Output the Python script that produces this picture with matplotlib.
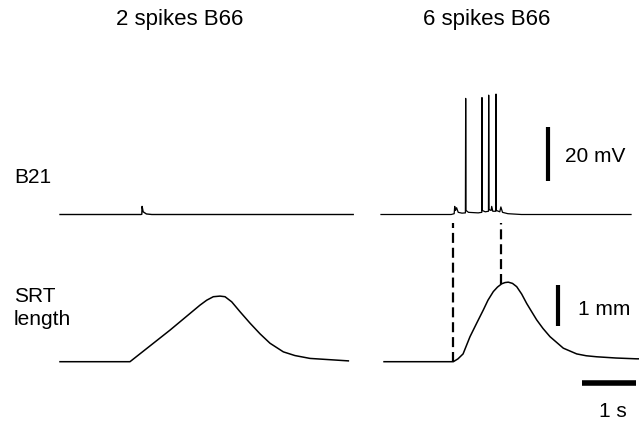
import numpy as np
import matplotlib
matplotlib.use('Agg')
import matplotlib.pyplot as plt

plt.rcParams['font.family'] = ['Liberation Sans', 'DejaVu Sans']

# panel titles and row labels
titles = ['2 spikes B66', '6 spikes B66']
row_labels = ['B21', 'SRT\nlength']

# B21 membrane potential, left panel (s, mV above rest)
b21_left_t = [0.0, 1.50, 1.515, 1.52, 1.54, 1.60, 1.70, 5.43]
b21_left_v = [0.0, 0.0, 0.1, 3.0, 1.0, 0.2, 0.0, 0.0]

# B21 membrane potential, right panel (s, mV above rest)
b21_right_t = [0.0, 1.30, 1.355, 1.365, 1.38, 1.40, 1.43, 1.50,
               1.563, 1.568, 1.574, 1.62, 1.80,
               1.866, 1.870, 1.875, 1.93,
               1.990, 1.994, 2.000, 2.04, 2.05, 2.07,
               2.126, 2.130, 2.136, 2.20, 2.22, 2.25, 2.35, 2.60, 4.63]
b21_right_v = [0.0, 0.0, 0.3, 3.0, 1.5, 2.5, 0.8, 0.5,
               0.6, 43.0, 1.5, 0.8, 0.6,
               0.8, 43.3, 1.5, 1.0,
               1.2, 44.2, 1.8, 1.5, 3.0, 1.2,
               1.2, 44.6, 1.5, 1.0, 2.8, 0.8, 0.3, 0.0, 0.0]

# SRT length, left panel (s, mm)
srt_left_t = [0.0, 1.296, 2.037, 2.593, 2.717, 2.839, 2.963, 3.056, 3.18,
              3.333, 3.519, 3.704, 3.889, 4.136, 4.35, 4.63, 5.34]
srt_left_mm = [0.0, 0.0, 0.77, 1.38, 1.50, 1.585, 1.60, 1.585, 1.46,
               1.22, 0.94, 0.68, 0.45, 0.24, 0.15, 0.08, 0.02]

# SRT length, right panel (s, mm)
srt_right_t = [0.056, 1.30, 1.339, 1.426, 1.52, 1.648, 1.772, 1.894, 1.981,
               2.080, 2.157, 2.235, 2.296, 2.357, 2.435, 2.513, 2.605, 2.698,
               2.79, 2.883, 3.0, 3.130, 3.253, 3.376, 3.5, 3.624, 3.8, 3.994,
               4.35, 4.735, 4.85]
srt_right_mm = [0.0, 0.0, 0.0, 0.07, 0.19, 0.61, 0.94, 1.26, 1.50,
                1.71, 1.82, 1.90, 1.93, 1.94, 1.91, 1.83, 1.65, 1.42,
                1.22, 1.02, 0.81, 0.61, 0.47, 0.33, 0.26, 0.19, 0.145, 0.12,
                0.09, 0.07, 0.07]

# dashed markers linking first and last B21 events to SRT (right panel)
dash_t = [1.333, 2.222]
dash_bottom = [0.0, 1.89]
dash_top = 3.38

# scale bars
bar_mv = 20
bar_mm = 1
bar_s = 1

# layout (pixels of the 639x422 figure)
W, H = 639, 422
T_PX = 54.0      # px per second
MV_PX = 2.7      # px per mV
MM_PX = 41.0     # px per mm
X0_L, X0_R = 60, 381
B21_Y, SRT_Y = 214.5, 361.7
t_off = (X0_R - X0_L) / T_PX

fig = plt.figure(figsize=(W / 100, H / 100), dpi=100)
ax_v = fig.add_axes([0, 0, 1, 1])
ax_s = fig.add_axes([0, 0, 1, 1])
for ax in (ax_v, ax_s):
    ax.set_axis_off()
    ax.patch.set_alpha(0)
    ax.set_xlim(-X0_L / T_PX, (W - X0_L) / T_PX)
ax_v.set_ylim(-(H - B21_Y) / MV_PX, B21_Y / MV_PX)
ax_s.set_ylim(-(H - SRT_Y) / MM_PX, SRT_Y / MM_PX)

# traces
ax_v.plot(b21_left_t, b21_left_v, color='k', lw=1.0)
ax_v.plot(np.array(b21_right_t) + t_off, b21_right_v, color='k', lw=0.9)
ax_s.plot(srt_left_t, srt_left_mm, color='k', lw=1.1)
ax_s.plot(np.array(srt_right_t) + t_off, srt_right_mm, color='k', lw=1.1)

# dashed links
for t, yb in zip(dash_t, dash_bottom):
    ax_s.plot([t + t_off, t + t_off], [yb, dash_top], color='k', lw=1.6,
              dashes=(4.5, 2.2), solid_capstyle='butt')

# scale bars
ax_v.plot([3.093 + t_off] * 2, [12.3, 12.3 + bar_mv], color='k', lw=3.0,
          solid_capstyle='butt')
ax_s.plot([3.27 + t_off] * 2, [0.87, 0.87 + bar_mm], color='k', lw=3.0,
          solid_capstyle='butt')
ax_s.plot([3.72 + t_off, 3.72 + t_off + bar_s], [-0.52, -0.52], color='k',
          lw=4.0, solid_capstyle='butt')

fs = 15
fx = lambda x: x / W
fy = lambda y: 1 - y / H
fig.text(fx(180), fy(19), titles[0], ha='center', va='center', fontsize=16)
fig.text(fx(487), fy(19), titles[1], ha='center', va='center', fontsize=16)
fig.text(fx(14), fy(183), row_labels[0], ha='left', va='baseline', fontsize=fs)
fig.text(fx(14), fy(325), row_labels[1], ha='left', va='baseline', fontsize=fs,
         linespacing=1.25)
fig.text(fx(565), fy(162), '20 mV', ha='left', va='baseline', fontsize=fs)
fig.text(fx(578), fy(315), '1 mm', ha='left', va='baseline', fontsize=fs)
fig.text(fx(613), fy(417), '1 s', ha='center', va='baseline', fontsize=fs)

fig.savefig('out.png', dpi=100)
